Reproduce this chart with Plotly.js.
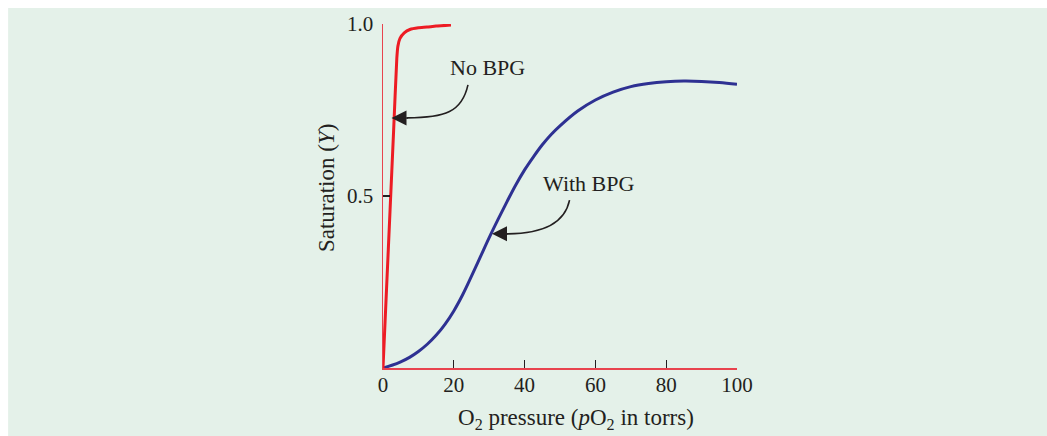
<!DOCTYPE html>
<html>
<head>
<meta charset="utf-8">
<script src="https://cdn.plot.ly/plotly-3.0.1.min.js"></script>
<style>html,body{margin:0;padding:0;background:#fff;}#chart{width:1047px;height:436px;}</style>
</head>
<body>
<div id="chart"></div>
<script>
// Data
const noBpgX = [0, 1, 2, 3, 3.9, 4.2, 4.8, 6, 7.6, 10, 12.4, 15, 19.2];
const noBpgY = [0, 0.23, 0.46, 0.69, 0.90, 0.935, 0.958, 0.974, 0.984, 0.989, 0.991, 0.994, 0.997];

const withBpgX = [0, 2.5, 5, 7.5, 10, 12.5, 15, 17.5, 20, 22.5, 25, 27.5, 30, 32.5, 35, 37.5, 40, 42.5, 45, 47.5, 50, 55, 60, 65, 70, 75, 80, 85, 90, 95, 100];
const withBpgY = [0, 0.008, 0.018, 0.031, 0.048, 0.069, 0.095, 0.127, 0.166, 0.213, 0.267, 0.323, 0.379, 0.432, 0.483, 0.532, 0.576, 0.614, 0.649, 0.679, 0.704, 0.747, 0.779, 0.802, 0.818, 0.827, 0.832, 0.834, 0.833, 0.83, 0.825];

const xTicks = [0, 20, 40, 60, 80, 100];
const xTickText = ['0', '20', '40', '60', '80', '100'];
const yTicks = [0.5, 1.0];
const yTickText = ['0.5', '1.0'];

const labelNoBpg = 'No BPG';
const labelWithBpg = 'With BPG';
const xTitle = 'O<sub>2</sub> pressure (<i>p</i>O<sub>2</sub> in torrs)';
const yTitle = 'Saturation (<i>Y</i>)';

const serif = 'Liberation Serif, Times New Roman, serif';
const ink = '#231f20';

const traces = [
  {x: withBpgX, y: withBpgY, mode: 'lines', line: {color: '#2e3192', width: 3, shape: 'spline', smoothing: 1}, hoverinfo: 'skip'},
  {x: noBpgX, y: noBpgY, mode: 'lines', line: {color: '#ed1c24', width: 3, shape: 'spline', smoothing: 0.5}, hoverinfo: 'skip'}
];

const layout = {
  width: 1047, height: 436,
  margin: {l: 383, r: 310, t: 24, b: 68},
  paper_bgcolor: '#ffffff',
  plot_bgcolor: 'rgba(0,0,0,0)',
  showlegend: false,
  font: {family: serif, color: ink, size: 21},
  xaxis: {
    range: [0, 100], showgrid: false, zeroline: false,
    showline: true, linecolor: '#e8434e', linewidth: 1.5,
    ticks: 'inside', ticklen: 8, tickwidth: 1.3, tickcolor: ink,
    tickmode: 'array', tickvals: xTicks, ticktext: xTickText,
    ticklabelstandoff: -3,
    tickfont: {family: serif, size: 21, color: ink}
  },
  yaxis: {
    range: [0, 1], showgrid: false, zeroline: false,
    showline: true, linecolor: '#e8434e', linewidth: 1.5,
    ticks: 'inside', ticklen: 7, tickwidth: 1.3, tickcolor: ink,
    tickmode: 'array', tickvals: yTicks, ticktext: yTickText,
    ticklabelstandoff: 4,
    tickfont: {family: serif, size: 21, color: ink}
  },
  shapes: [
    {type: 'rect', xref: 'paper', yref: 'paper', x0: -1.059, x1: 1.9, y0: -0.25, y1: 1.0465,
     fillcolor: '#e4f1e9', line: {width: 0}, layer: 'below'},
    {type: 'path', xref: 'x', yref: 'y', path: 'M 24.0,0.823 C 22.3,0.744 17.5,0.727 6.8,0.727',
     line: {color: ink, width: 1.6}},
    {type: 'path', xref: 'x', yref: 'y', path: 'M 52.7,0.488 C 51.4,0.424 45.8,0.390 35.0,0.390',
     line: {color: ink, width: 1.6}}
  ],
  annotations: [
    {x: 0.545, y: -0.148, xref: 'paper', yref: 'paper', xanchor: 'center', yanchor: 'middle',
     text: xTitle, showarrow: false, font: {family: serif, size: 23, color: ink}},
    {x: -0.161, y: 0.523, xref: 'paper', yref: 'paper', xanchor: 'center', yanchor: 'middle', textangle: -90,
     text: yTitle, showarrow: false, font: {family: serif, size: 23, color: ink}},
    {x: 29.5, y: 0.875, xref: 'x', yref: 'y', text: labelNoBpg, showarrow: false, font: {family: serif, size: 22, color: ink}},
    {x: 58.3, y: 0.537, xref: 'x', yref: 'y', text: labelWithBpg, showarrow: false, font: {family: serif, size: 22, color: ink}},
    {x: 2.4, y: 0.727, xref: 'x', yref: 'y', text: '', showarrow: true, ax: 18, ay: 0,
     arrowhead: 2, arrowsize: 2, arrowwidth: 1.5, arrowcolor: ink},
    {x: 30.8, y: 0.390, xref: 'x', yref: 'y', text: '', showarrow: true, ax: 18, ay: 0,
     arrowhead: 2, arrowsize: 2, arrowwidth: 1.5, arrowcolor: ink}
  ]
};

Plotly.newPlot('chart', traces, layout, {staticPlot: true, displayModeBar: false});
</script>
</body>
</html>
